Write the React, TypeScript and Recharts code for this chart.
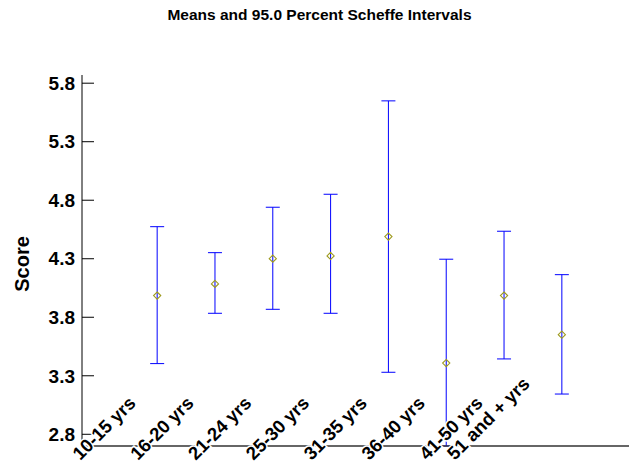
import { ComposedChart, ErrorBar, Scatter, XAxis, YAxis } from 'recharts'

const CATEGORIES = [
  '10-15 yrs',
  '16-20 yrs',
  '21-24 yrs',
  '25-30 yrs',
  '31-35 yrs',
  '36-40 yrs',
  '41-50 yrs',
  '51 and + yrs',
]
const MEANS = [3.985, 4.085, 4.301, 4.324, 4.489, 3.409, 3.985, 3.651]
const LOWER = [3.404, 3.834, 3.868, 3.834, 3.33, 2.522, 3.444, 3.144]
const UPPER = [4.574, 4.352, 4.74, 4.851, 5.649, 4.296, 4.535, 4.164]
const Y_TICKS = [2.8, 3.3, 3.8, 4.3, 4.8, 5.3, 5.8]
const POSITIONS = CATEGORIES.map((_, i) => i + 1)

const FONT = 'Arial, "Liberation Sans", Helvetica, sans-serif'
const Y_DOMAIN: [number, number] = [2.7, 5.87]
const X_DOMAIN: [number, number] = [-0.3, 9.3]

// intervals running past the bottom of the frame are cut at the frame
const data = CATEGORIES.map((label, i) => ({
  pos: POSITIONS[i],
  label,
  mean: MEANS[i],
  err: [MEANS[i] - Math.max(LOWER[i], Y_DOMAIN[0]), UPPER[i] - MEANS[i]],
}))

// slanted group names, starting left of the group and running up to the right;
// the last (longer) one is pulled further left
function GroupTick({ x, y, payload }: any) {
  const idx = POSITIONS.indexOf(payload.value)
  const tx = x - 77 - (idx === CATEGORIES.length - 1 ? 30 : 0)
  const ty = y + 15
  return (
    <text
      x={tx}
      y={ty}
      transform={`rotate(-45, ${tx}, ${ty})`}
      textAnchor="start"
      fontFamily={FONT}
      fontWeight="bold"
      fontSize={18.5}
      fill="#000"
      stroke="#fff"
      strokeWidth={3}
      paintOrder="stroke"
    >
      {CATEGORIES[idx]}
    </text>
  )
}

function MeanMarker({ cx, cy }: any) {
  const r = 3.6
  return (
    <path
      d={`M${cx},${cy - r} L${cx + r},${cy} L${cx},${cy + r} L${cx - r},${cy} Z`}
      fill="none"
      stroke="#9e9a1e"
      strokeWidth={1.1}
    />
  )
}

export default function App() {
  return (
    <div
      style={{
        position: 'absolute',
        left: 0,
        top: 0,
        width: 629,
        height: 466,
        overflow: 'hidden',
        background: '#fff',
        fontFamily: FONT,
      }}
    >
      <div
        style={{
          position: 'absolute',
          top: 5,
          left: 0,
          width: 639,
          textAlign: 'center',
          fontWeight: 'bold',
          fontSize: 15.5,
          lineHeight: '19px',
          color: '#000',
        }}
      >
        Means and 95.0 Percent Scheffe Intervals
      </div>
      <ComposedChart
        width={660}
        height={466}
        data={data}
        margin={{ top: 75, right: 0, bottom: 0, left: 0 }}
      >
        <Scatter dataKey="mean" shape={<MeanMarker />} isAnimationActive={false}>
          <ErrorBar
            dataKey="err"
            direction="y"
            width={7}
            stroke="#0000ff"
            strokeWidth={1}
            isAnimationActive={false}
          />
        </Scatter>
        <XAxis
          dataKey="pos"
          type="number"
          domain={X_DOMAIN}
          ticks={POSITIONS}
          allowDataOverflow
          height={20}
          tickLine={false}
          tickSize={0}
          tickMargin={0}
          tick={<GroupTick />}
          axisLine={{ stroke: '#333', strokeWidth: 1.5 }}
          interval={0}
        />
        <XAxis
          xAxisId="top"
          orientation="top"
          type="number"
          domain={X_DOMAIN}
          height={0}
          tick={false}
          tickLine={false}
          axisLine={{ stroke: '#333', strokeWidth: 1.5 }}
        />
        <YAxis
          type="number"
          domain={Y_DOMAIN}
          ticks={Y_TICKS}
          allowDataOverflow
          width={82}
          tickSize={-12}
          tickMargin={19}
          tickFormatter={(v: number) => v.toFixed(1)}
          tick={{ fill: '#000', fontSize: 19, fontWeight: 'bold', fontFamily: FONT }}
          tickLine={{ stroke: '#000' }}
          axisLine={{ stroke: '#000' }}
          label={() => (
            <text
              x={22}
              y={264}
              transform="rotate(-90, 22, 264)"
              textAnchor="middle"
              dominantBaseline="central"
              fontFamily={FONT}
              fontWeight="bold"
              fontSize={20}
              fill="#000"
            >
              Score
            </text>
          )}
        />
        <YAxis
          yAxisId="right"
          orientation="right"
          type="number"
          domain={Y_DOMAIN}
          ticks={Y_TICKS}
          allowDataOverflow
          width={23}
          tickSize={-12}
          tick={false}
          tickLine={{ stroke: '#000' }}
          axisLine={{ stroke: '#000' }}
        />
      </ComposedChart>
    </div>
  )
}
